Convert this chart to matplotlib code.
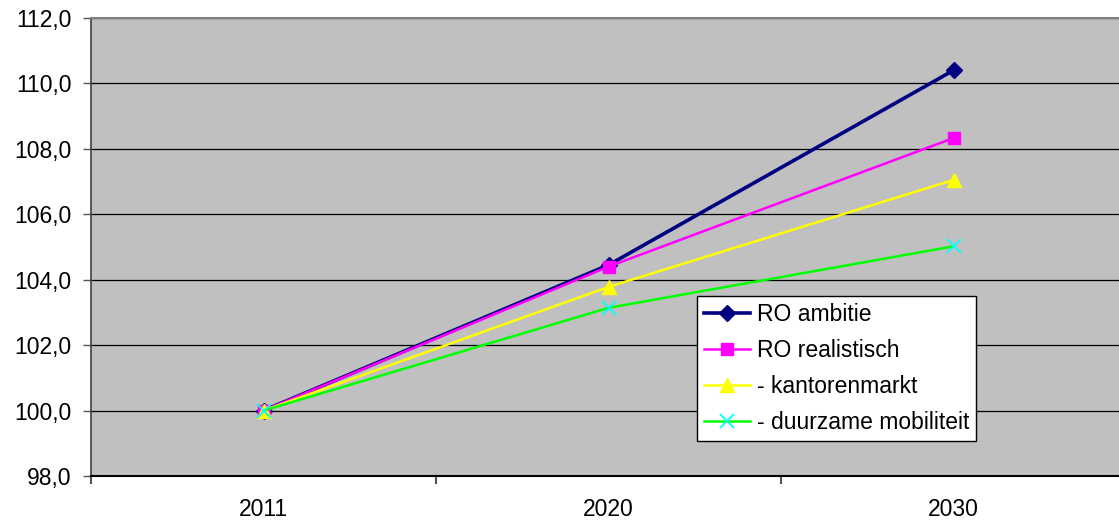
import matplotlib.pyplot as plt
import numpy as np

plt.rcParams['font.family'] = ['Liberation Sans', 'DejaVu Sans']

jaren = ['2011', '2020', '2030']
ro_ambitie = [100.0, 104.45, 110.4]
ro_realistisch = [100.0, 104.4, 108.33]
kantorenmarkt = [100.0, 103.78, 107.05]
duurzame_mobiliteit = [100.0, 103.14, 105.02]

fig = plt.figure(figsize=(11.19, 5.21), dpi=100)
ax = fig.add_axes([91 / 1119, 45 / 521, 1035 / 1119, 458 / 521])
ax.set_facecolor('#C0C0C0')

x = np.arange(len(jaren))
ax.plot(x, ro_ambitie, color='#000080', lw=2.6, marker='D', ms=8, label='RO ambitie')
ax.plot(x, ro_realistisch, color='#FF00FF', lw=1.8, marker='s', ms=9, label='RO realistisch')
ax.plot(x, kantorenmarkt, color='#FFFF00', lw=1.8, marker='^', ms=10, label='- kantorenmarkt')
ax.plot(x, duurzame_mobiliteit, color='#00FF00', lw=1.8, marker='x', ms=10,
        mec='#00FFFF', mew=1.3, label='- duurzame mobiliteit')

ax.set_xlim(-0.5, 2.5)
ax.set_ylim(98, 112)
ax.set_yticks(np.arange(98, 112.1, 2))
ax.set_yticklabels([f'{v:.1f}'.replace('.', ',') for v in np.arange(98, 112.1, 2)])
ax.yaxis.grid(True, color='black', lw=0.9)
ax.set_axisbelow(True)

ax.set_xticks(x)
ax.set_xticklabels(jaren)
ax.set_xticks([-0.5, 0.5, 1.5, 2.5], minor=True)
ax.tick_params(axis='x', which='major', length=0, pad=16, labelsize=16.5)
ax.tick_params(axis='x', which='minor', length=6, width=1.5, color='#555555')
ax.tick_params(axis='y', length=6, width=1, color='#555555', labelsize=16.5, pad=8)

ax.spines['right'].set_visible(False)
ax.spines['top'].set_color('#808080')
ax.spines['top'].set_linewidth(1.5)
ax.spines['left'].set_color('#404040')
ax.spines['left'].set_linewidth(1.2)
ax.spines['bottom'].set_color('black')
ax.spines['bottom'].set_linewidth(1.5)

leg = ax.legend(loc='upper left', bbox_to_anchor=(0.5855, 0.393), borderaxespad=0,
                fontsize=16.5, frameon=True, fancybox=False, edgecolor='black',
                framealpha=1, handlelength=2.0, labelspacing=0.57,
                handletextpad=0.3, borderpad=0.3)
leg.get_frame().set_linewidth(1.0)

fig.savefig('out.png', dpi=100)
